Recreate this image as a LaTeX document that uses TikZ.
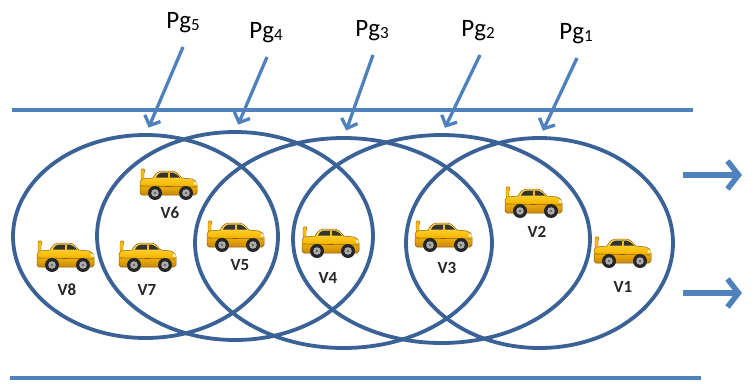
\documentclass[tikz,border=0pt]{standalone}
\usepackage{fontspec}
\setmainfont{Carlito}
\usetikzlibrary{arrows.meta,shapes.geometric}

\definecolor{ringblue}{RGB}{58,98,150}
\definecolor{roadblue}{RGB}{79,129,189}
\definecolor{carbody}{RGB}{250,190,10}
\definecolor{carlight}{RGB}{255,222,90}
\definecolor{cardark}{RGB}{200,135,0}
\definecolor{carline}{RGB}{140,90,0}

\tikzset{
  ringzone/.style={draw=ringblue, line width=3.8pt, ellipse, inner sep=0pt, outer sep=0pt},
  road/.style={draw=roadblue, line width=4pt},
  pgarrow/.style={draw=roadblue, line width=3.3pt,
    -{Straight Barb[length=8pt,width=17pt]}, shorten >=8pt},
  flow/.style={draw=roadblue, line width=5.5pt,
    -{Straight Barb[length=11pt,width=28pt]}},
  pglabel/.style={font=\fontsize{25}{25}\selectfont, inner sep=1pt},
  vlabel/.style={font=\bfseries\fontsize{17}{17}\selectfont, text=black!85, inner sep=0pt},
  car/.pic={
    % body
    \shade[top color=carlight, bottom color=cardark, middle color=carbody,
           draw=carline, line width=0.5pt]
      (-28,8) -- (-28,-3) -- (-26,-6) -- (-15,-7)
      .. controls (-12,-13) and (-9,-14) .. (-4,-14) -- (5,-14)
      .. controls (9,-13) and (11,-10) .. (14,-7)
      -- (24,-6) .. controls (27,-5) and (29,-3) .. (29,0)
      -- (29,8) -- (27,10) -- (-26,10) -- cycle;
    % rear spoiler
    \fill[carbody, draw=carline, line width=0.4pt]
      (-27,-6) -- (-27,-14) .. controls (-27,-17) and (-23,-17) .. (-23,-14)
      -- (-24,-12) -- (-24,-6) -- cycle;
    % windows
    \fill[black!80] (-12,-7.5) .. controls (-10,-11.5) and (-8,-12.5) .. (-4,-12.5)
      -- (5,-12.5) .. controls (8,-11.5) and (10,-9.5) .. (12,-7.5) -- cycle;
    \fill[carbody] (-0.5,-12.5) rectangle (1.5,-7.5);
    % side line and lamp
    \draw[carline, line width=0.6pt] (-27,1) -- (28,2);
    \fill[white!70!carlight] (26.5,-3.5) -- (28.6,-2) -- (28.6,0) -- (25.5,-0.5) -- cycle;
    % wheels
    \foreach \wx in {-13,18} {
      \fill[black!85] (\wx,8) circle (7pt);
      \fill[gray!65] (\wx,8) circle (3.8pt);
      \fill[black!60] (\wx,8) circle (1.4pt);
    }
  }
}

\newcommand\pgname[1]{Pg\raisebox{-0.06em}{\fontsize{17}{17}\selectfont #1}}

\begin{document}
\begin{tikzpicture}[x=1pt, y=-1pt]
\useasboundingbox (0,0) rectangle (755,383);

% road edges
\coordinate (roadTL) at (12,110);
\coordinate (roadTR) at (693,110);
\coordinate (roadBL) at (10,378);
\coordinate (roadBR) at (701,378);
\draw[road] (roadTL) -- (roadTR);
\draw[road] (roadBL) -- (roadBR);

% communication ranges
\node[ringzone, minimum width=265pt, minimum height=203pt] (g5) at (145.5,236.5) {};
\node[ringzone, minimum width=276pt, minimum height=208pt] (g4) at (235,236) {};
\node[ringzone, minimum width=297pt, minimum height=210pt] (g3) at (343.5,243) {};
\node[ringzone, minimum width=297pt, minimum height=208pt] (g2) at (441.5,239) {};
\node[ringzone, minimum width=267pt, minimum height=210pt] (g1) at (539.5,243) {};

% group labels and pointers
\node[pglabel] (p5) at (183,23) {\pgname{5}};
\node[pglabel] (p4) at (266,33) {\pgname{4}};
\node[pglabel] (p3) at (372,31) {\pgname{3}};
\node[pglabel] (p2) at (478,31) {\pgname{2}};
\node[pglabel] (p1) at (576,34) {\pgname{1}};
\coordinate (s5) at (183,47);
\coordinate (s4) at (267,57);
\coordinate (s3) at (373,55);
\coordinate (s2) at (480,55);
\coordinate (s1) at (577,58);
\draw[pgarrow] (s5) -- (g5.north);
\draw[pgarrow] (s4) -- (g4.north);
\draw[pgarrow] (s3) -- (g3.north);
\draw[pgarrow] (s2) -- (g2.north);
\draw[pgarrow] (s1) -- (g1.north);

% driving direction
\coordinate (f1a) at (683,175);
\coordinate (f1b) at (742,175);
\coordinate (f2a) at (683,293);
\coordinate (f2b) at (742,293);
\draw[flow] (f1a) -- (f1b);
\draw[flow] (f2a) -- (f2b);

% vehicles
\pic (c8) at (65,257) {car};
\pic (c7) at (147,257) {car};
\pic (c6) at (168,185) {car};
\pic (c5) at (235,237) {car};
\pic (c4) at (330,243) {car};
\pic (c3) at (443,237) {car};
\pic (c2) at (533,203) {car};
\pic (c1) at (622,253) {car};

\node[vlabel] (v8) at (67,290) {V8};
\node[vlabel] (v7) at (147,290) {V7};
\node[vlabel] (v6) at (170,213) {V6};
\node[vlabel] (v5) at (240,265) {V5};
\node[vlabel] (v4) at (328,278) {V4};
\node[vlabel] (v3) at (447,268) {V3};
\node[vlabel] (v2) at (537,232) {V2};
\node[vlabel] (v1) at (623,287) {V1};
\end{tikzpicture}
\end{document}
